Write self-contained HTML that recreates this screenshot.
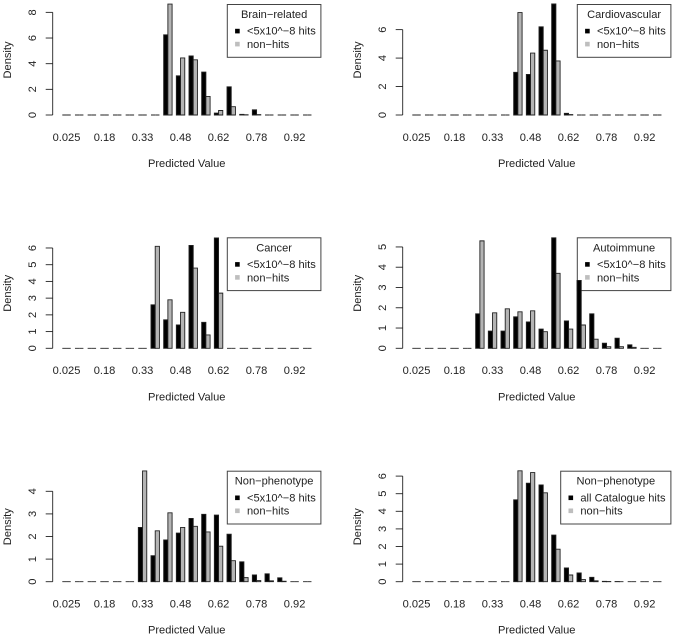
<!DOCTYPE html>
<html>
<head>
<meta charset="utf-8">
<title>Predicted value density panels</title>
<style>
html,body{margin:0;padding:0;background:#fff;width:675px;height:636px;overflow:hidden}
svg{display:block;filter:blur(0.35px)}
text{font-family:"Liberation Sans",sans-serif;font-size:11.1px;fill:#222}
</style>
</head>
<body>
<svg id="chart" width="675" height="636" viewBox="0 0 675 636" xmlns="http://www.w3.org/2000/svg"></svg>
<script>
const tickLabels = ["0.025","0.18","0.33","0.48","0.62","0.78","0.92"];
const xAxisTitle = "Predicted Value";
const yAxisTitle = "Density";

const brainHits    = [0,0,0,0,0,0,0,0,6.25,3.05,4.6,3.35,0.15,2.2,0.05,0.4,0,0,0,0];
const brainNon     = [0,0,0,0,0,0,0,0,8.65,4.45,4.3,1.45,0.35,0.65,0.02,0.03,0,0,0,0];
const brainTicks   = [0,2,4,6,8];

const cardioHits   = [0,0,0,0,0,0,0,0,3.0,2.85,6.2,7.8,0.12,0,0,0,0,0,0,0];
const cardioNon    = [0,0,0,0,0,0,0,0,7.2,4.35,4.55,3.8,0.03,0,0,0,0,0,0,0];
const cardioTicks  = [0,2,4,6];

const cancerHits   = [0,0,0,0,0,0,0,2.6,1.7,1.4,6.15,1.55,6.6,0,0,0,0,0,0,0];
const cancerNon    = [0,0,0,0,0,0,0,6.1,2.9,2.15,4.8,0.8,3.3,0,0,0,0,0,0,0];
const cancerTicks  = [0,1,2,3,4,5,6];

const autoHits     = [0,0,0,0,0,1.7,0.85,0.85,1.55,1.3,0.95,5.45,1.35,3.35,1.7,0.25,0.5,0.17,0,0];
const autoNon      = [0,0,0,0,0,5.3,1.75,1.95,1.8,1.85,0.82,3.7,0.95,1.15,0.45,0.08,0.08,0.05,0,0];
const autoTicks    = [0,1,2,3,4,5];

const nonPhenoHits = [0,0,0,0,0,0,2.4,1.15,1.85,2.15,2.8,2.98,2.95,2.1,0.88,0.3,0.35,0.17,0,0];
const nonPhenoNon  = [0,0,0,0,0,0,4.9,2.25,3.05,2.4,2.45,2.2,1.57,0.93,0.18,0.05,0.04,0.02,0,0];
const nonPhenoTicks= [0,1,2,3,4];

const catalogHits  = [0,0,0,0,0,0,0,0,4.65,5.6,5.5,2.65,0.78,0.5,0.25,0.02,0.01,0,0,0];
const catalogNon   = [0,0,0,0,0,0,0,0,6.3,6.2,5.05,1.85,0.38,0.12,0.05,0.01,0,0,0,0];
const catalogTicks = [0,1,2,3,4,5,6];

const svg = document.getElementById('chart');
const NS = 'http://www.w3.org/2000/svg';

function make(tag, parent, attrs, txt) {
  const el = document.createElementNS(NS, tag);
  for (const k in attrs) el.setAttribute(k, attrs[k]);
  if (txt !== undefined) el.textContent = txt;
  parent.appendChild(el);
  return el;
}

// A path rather than a rect: a zero-height rect is not painted, and empty bins must still show as dashes.
function barPath(x0, x1, yTop, yBase) {
  return 'M' + x0 + ' ' + yBase + 'V' + yTop + 'H' + x1 + 'V' + yBase + 'Z';
}

function drawPanel(cfg) {
  const g = make('g', svg, {});
  
  

  const barW = 4.22, step = 12.67;
  const x = function (k) { return cfg.ox + 62.3 + k * step; };
  const y = function (v) { return cfg.oy + 115 - v * cfg.unit; };

  // legend sits under the bars
  const lg = make('g', g, {});
  
  
  const lx = cfg.ox + cfg.legendX, lr = cfg.ox + 320.9, ly = cfg.oy + 4.5;
  const box = make('rect', lg, {x: lx, y: ly, width: lr - lx, height: 52.8, fill: '#fff', stroke: '#444', 'stroke-width': 1});
  
  
  const title = make('text', lg, {x: (lx + lr) / 2, y: cfg.oy + 18, 'text-anchor': 'middle'}, cfg.title);
  
  
  const s1 = make('rect', lg, {x: lx + 7.8, y: cfg.oy + 28.8, width: 4.6, height: 4.6, fill: '#000'});
  
  
  const t1 = make('text', lg, {x: lx + 19.7, y: cfg.oy + 34.6}, cfg.hitLabel);
  
  
  const s2 = make('rect', lg, {x: lx + 7.8, y: cfg.oy + 41.8, width: 4.6, height: 4.6, fill: '#bebebe'});
  
  
  const t2 = make('text', lg, {x: lx + 19.7, y: cfg.oy + 48}, 'non\u2212hits');
  
  

  // bars
  cfg.hits.forEach(function (v, k) {
    const b = make('path', g, {d: barPath(x(k), x(k) + barW, y(v), y(0)), fill: '#000', stroke: '#222', 'stroke-width': 0.9});
    
    
  });
  cfg.non.forEach(function (v, k) {
    const b = make('path', g, {d: barPath(x(k) + barW, x(k) + 2 * barW, y(v), y(0)), fill: '#b4b4b4', stroke: '#222', 'stroke-width': 0.9});
    
    
  });

  // y axis
  const axisX = cfg.ox + 52.7;
  const top = cfg.ticks[cfg.ticks.length - 1];
  const yAxis = make('line', g, {x1: axisX, x2: axisX, y1: y(0), y2: y(top), stroke: '#222', 'stroke-width': 0.9});
  
  
  cfg.ticks.forEach(function (t) {
    const tick = make('line', g, {x1: axisX - 7, x2: axisX, y1: y(t), y2: y(t), stroke: '#222', 'stroke-width': 0.9});
    
    
    const tx = cfg.ox + 36.2;
    const lab = make('text', g, {x: tx, y: y(t), 'text-anchor': 'middle', transform: 'rotate(-90 ' + tx + ' ' + y(t) + ')'}, String(t));
    
    
  });

  // x labels, one every three groups
  tickLabels.forEach(function (lab, i) {
    const cx = x(i * 3) + barW;
    const t = make('text', g, {x: cx, y: cfg.oy + 140.8, 'text-anchor': 'middle'}, lab);
    
    
  });

  const xt = make('text', g, {x: cfg.ox + 186.7, y: cfg.oy + 167, 'text-anchor': 'middle'}, xAxisTitle);
  
  
  const yx = cfg.ox + 10.8, yy = cfg.oy + 60;
  const yt = make('text', g, {x: yx, y: yy, 'text-anchor': 'middle', transform: 'rotate(-90 ' + yx + ' ' + yy + ')'}, yAxisTitle);
  
  
}

const hitText = '<5x10^\u22128 hits';
drawPanel({slug:'brain-related', title:'Brain\u2212related', hitLabel:hitText, ox:0, oy:0, unit:12.83, legendX:227.3, hits:brainHits, non:brainNon, ticks:brainTicks});
drawPanel({slug:'cardiovascular', title:'Cardiovascular', hitLabel:hitText, ox:350, oy:0, unit:14.23, legendX:227.3, hits:cardioHits, non:cardioNon, ticks:cardioTicks});
drawPanel({slug:'cancer', title:'Cancer', hitLabel:hitText, ox:0, oy:233.3, unit:16.72, legendX:227.3, hits:cancerHits, non:cancerNon, ticks:cancerTicks});
drawPanel({slug:'autoimmune', title:'Autoimmune', hitLabel:hitText, ox:350, oy:233.3, unit:20.27, legendX:227.3, hits:autoHits, non:autoNon, ticks:autoTicks});
drawPanel({slug:'non-phenotype-gwas', title:'Non\u2212phenotype', hitLabel:hitText, ox:0, oy:466.7, unit:22.6, legendX:227.3, hits:nonPhenoHits, non:nonPhenoNon, ticks:nonPhenoTicks});
drawPanel({slug:'non-phenotype-catalogue', title:'Non\u2212phenotype', hitLabel:'all Catalogue hits', ox:350, oy:466.7, unit:17.6, legendX:210.7, hits:catalogHits, non:catalogNon, ticks:catalogTicks});
</script>
</body>
</html>
